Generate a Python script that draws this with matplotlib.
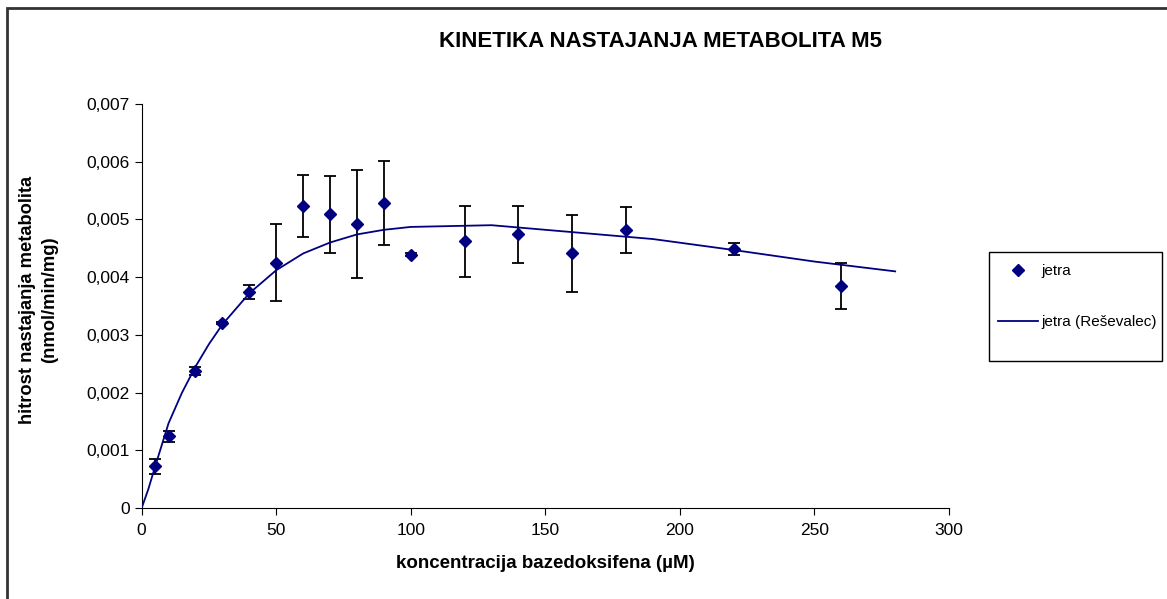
import matplotlib.pyplot as plt
from matplotlib.patches import Rectangle
from matplotlib.ticker import FuncFormatter

plt.rcParams['font.family'] = ['Liberation Sans', 'DejaVu Sans']

# measured points (jetra) with error bars
conc = [5, 10, 20, 30, 40, 50, 60, 70, 80, 90, 100, 120, 140, 160, 180, 220, 260]
rate = [0.00072, 0.00124, 0.00238, 0.00320, 0.00374, 0.00425, 0.00523, 0.00509, 0.00492,
        0.00529, 0.00439, 0.00462, 0.00474, 0.00441, 0.00481, 0.00449, 0.00384]
err = [0.00013, 0.00009, 0.00007, 0.00002, 0.000125, 0.00067, 0.00054, 0.00067, 0.00094,
       0.00073, 0.00003, 0.00061, 0.00049, 0.00067, 0.0004, 0.0001, 0.0004]

# fitted curve (Reševalec)
fit_x = [0, 2.5, 5, 10, 15, 20, 25, 30, 40, 50, 60, 70, 80, 90, 100, 130, 160, 190, 220, 250, 280]
fit_y = [0, 0.00033, 0.00072, 0.00147, 0.00200, 0.00245, 0.00284, 0.00318, 0.00372, 0.00412,
         0.00441, 0.00460, 0.00474, 0.00482, 0.00487, 0.00490, 0.00478, 0.00466, 0.00447,
         0.00427, 0.00410]

navy = '#000080'

fig = plt.figure(figsize=(11.67, 5.99), dpi=100)
ax = fig.add_axes([0.1214, 0.1519, 0.6918, 0.6745])

ax.errorbar(conc, rate, yerr=err, fmt='none', ecolor='black', elinewidth=1.3,
            capsize=4.6, capthick=1.3, zorder=2)
ax.plot(conc, rate, linestyle='none', marker='D', markersize=6.5, color=navy,
        label='jetra', zorder=3)
ax.plot(fit_x, fit_y, color=navy, linewidth=1.3, label='jetra (Reševalec)', zorder=4)

ax.set_xlim(0, 300)
ax.set_ylim(0, 0.007)
ax.set_xticks(range(0, 301, 50))
ax.set_yticks([i * 0.001 for i in range(8)])
ax.yaxis.set_major_formatter(FuncFormatter(lambda v, p: '0' if v == 0 else ('%.3f' % v).replace('.', ',')))
ax.spines['top'].set_visible(False)
ax.spines['right'].set_visible(False)
ax.tick_params(direction='out', length=5, labelsize=12.5)
ax.tick_params(axis='x', pad=6)

fig.text(0.5656, 0.930, 'KINETIKA NASTAJANJA METABOLITA M5', ha='center', va='center',
         fontsize=16, fontweight='bold')
fig.text(0.467, 0.06, 'koncentracija bazedoksifena (µM)', ha='center', va='center',
         fontsize=13.5, fontweight='bold')
fig.text(39 / 1167, 1 - 300 / 599, 'hitrost nastajanja metabolita\n(nmol/min/mg)', ha='center',
         va='center', rotation=90, fontsize=13.2, fontweight='bold', multialignment='center',
         linespacing=1.4)

# legend with its own frame
fig.legend(loc='upper left', bbox_to_anchor=(998 / 1167, 1 - 264 / 599), frameon=False,
           fontsize=11, handlelength=2.6, handletextpad=0.25, labelspacing=2.45,
           borderpad=0, borderaxespad=0)
fig.patches.append(Rectangle((989 / 1167, 1 - 361 / 599), 173 / 1167, 109 / 599,
                             transform=fig.transFigure, fill=False, edgecolor='black', linewidth=1))
fig.patches.append(Rectangle((7 / 1167, -0.05), 1.2, 1.05 - 7.5 / 599,
                             transform=fig.transFigure, fill=False, edgecolor='#333333', linewidth=2))

fig.savefig('out.png', dpi=100)
